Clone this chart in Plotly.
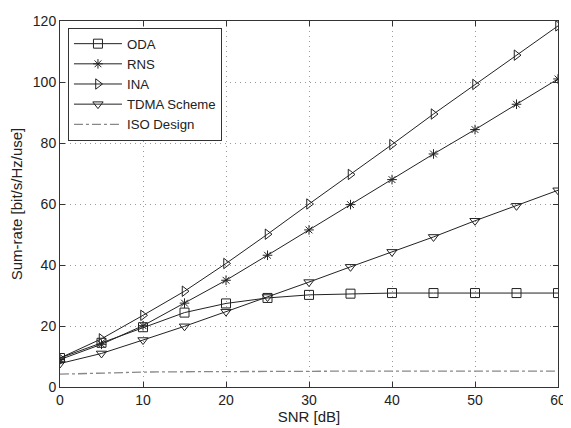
import plotly.graph_objects as go

snr = [0, 5, 10, 15, 20, 25, 30, 35, 40, 45, 50, 55, 60]
oda = [9.5, 14.5, 19.6, 24.4, 27.4, 29.2, 30.2, 30.6, 30.8, 30.8, 30.8, 30.8, 30.8]
rns = [9.0, 14.0, 20.1, 27.5, 35.0, 43.2, 51.5, 59.8, 68.0, 76.4, 84.4, 92.7, 101.0]
ina = [9.5, 15.8, 23.5, 31.4, 40.5, 50.1, 60.0, 69.7, 79.5, 89.5, 99.2, 108.8, 118.4]
tdma = [7.7, 11.0, 15.4, 19.9, 24.7, 29.5, 34.4, 39.4, 44.3, 49.2, 54.5, 59.4, 64.5]
iso = [4.2, 4.6, 4.9, 5.0, 5.1, 5.1, 5.2, 5.2, 5.2, 5.2, 5.2, 5.2, 5.2]

INK = "#222"
fig = go.Figure()
lw = 1
mk = dict(size=9, color=INK, line=dict(color=INK, width=1))
fig.add_trace(go.Scatter(x=snr, y=oda, name="ODA", mode="lines+markers",
                         line=dict(color=INK, width=lw), marker=dict(symbol="square-open", **mk)))
fig.add_trace(go.Scatter(x=snr, y=rns, name="RNS", mode="lines+markers",
                         line=dict(color=INK, width=lw),
                         marker=dict(symbol="asterisk-open", size=8, color=INK, line=dict(color=INK, width=1))))
fig.add_trace(go.Scatter(x=snr, y=ina, name="INA", mode="lines+markers",
                         line=dict(color=INK, width=lw), marker=dict(symbol="triangle-right-open", **mk)))
fig.add_trace(go.Scatter(x=snr, y=tdma, name="TDMA Scheme", mode="lines+markers",
                         line=dict(color=INK, width=lw), marker=dict(symbol="triangle-down-open", **mk)))
fig.add_trace(go.Scatter(x=snr, y=iso, name="ISO Design", mode="lines",
                         line=dict(color="#888", width=1.3, dash="dashdot")))

axis_common = dict(showline=True, linecolor="#333", linewidth=1, mirror="allticks",
                   ticks="inside", ticklen=5, tickcolor="#333",
                   showgrid=True, gridcolor="#999", griddash="1px,4px", gridwidth=1,
                   zeroline=False, tickfont=dict(size=14, color=INK),
                   title_font=dict(size=15, color=INK), ticklabeloverflow="allow")
fig.update_xaxes(range=[0, 60], tickvals=[0, 10, 20, 30, 40, 50, 60],
                 title_text="SNR [dB]", title_standoff=2, **axis_common)
fig.update_yaxes(range=[0, 120], tickvals=[0, 20, 40, 60, 80, 100, 120],
                 title_text="Sum-rate [bit/s/Hz/use]", title_standoff=8, **axis_common)

fig.update_layout(
    width=563, height=420,
    margin=dict(l=52, r=9, t=5, b=41),
    paper_bgcolor="white", plot_bgcolor="white",
    font=dict(family="Liberation Sans, Arial, sans-serif", color=INK),
    showlegend=True,
    legend=dict(x=0.016, y=0.982, xanchor="left", yanchor="top",
                bgcolor="white", bordercolor="#333", borderwidth=1,
                font=dict(size=13.2), tracegroupgap=0, itemwidth=48),
)

fig.write_html("out.html")
